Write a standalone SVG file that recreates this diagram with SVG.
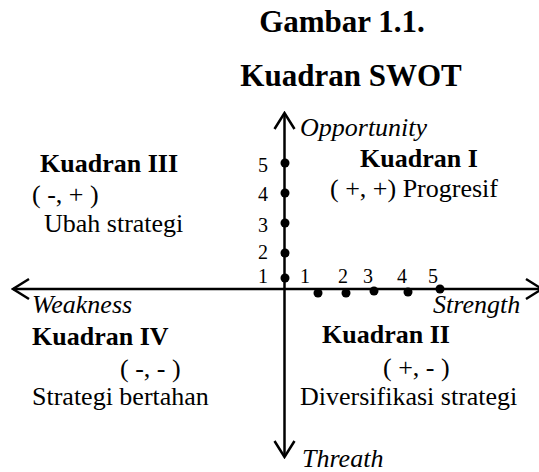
<svg xmlns="http://www.w3.org/2000/svg" width="539" height="472" viewBox="0 0 539 472">
<style>
text{font-family:"Liberation Serif","Times New Roman",serif;fill:#000}
.t{font-size:31px;font-weight:bold;text-anchor:middle}
.b{font-size:26px;font-weight:bold}
.r{font-size:26px}
.i{font-size:26px;font-style:italic}
.n{font-size:20px;text-anchor:middle}
.axis{stroke:#000;stroke-width:2.5;fill:none}
.dot{fill:#000}
</style>
<defs>
<marker id="chev" markerUnits="userSpaceOnUse" viewBox="0 0 20 24" refX="18" refY="12" markerWidth="20" markerHeight="24" orient="auto-start-reverse">
<path d="M2,2 L18,12 L2,22" fill="none" stroke="#000" stroke-width="2.5"/>
</marker>
</defs>
<rect width="539" height="472" fill="#fff"/>
<g id="title">
<text class="t" x="342" y="32">Gambar 1.1.</text>
<text class="t" x="351" y="86">Kuadran SWOT</text>
</g>
<g id="connectors">
<line class="axis" x1="284.5" y1="113" x2="284.5" y2="457" marker-start="url(#chev)" marker-end="url(#chev)"/>
<line class="axis" x1="13" y1="289" x2="542" y2="289" marker-start="url(#chev)" marker-end="url(#chev)"/>
</g>
<g id="y-scale">
<circle class="dot" cx="285" cy="163" r="4.5"/>
<circle class="dot" cx="285" cy="193" r="4.5"/>
<circle class="dot" cx="285" cy="223" r="4.5"/>
<circle class="dot" cx="285" cy="253" r="4.5"/>
<circle class="dot" cx="285" cy="278" r="4.5"/>
<text class="n" x="263" y="172">5</text>
<text class="n" x="263" y="201">4</text>
<text class="n" x="263" y="232">3</text>
<text class="n" x="263" y="259">2</text>
<text class="n" x="263" y="283">1</text>
</g>
<g id="x-scale">
<circle class="dot" cx="318" cy="293" r="4.5"/>
<circle class="dot" cx="346" cy="293" r="4.5"/>
<circle class="dot" cx="374" cy="291" r="4.5"/>
<circle class="dot" cx="408" cy="292" r="4.5"/>
<circle class="dot" cx="440" cy="289" r="4.5"/>
<text class="n" x="305" y="283">1</text>
<text class="n" x="343" y="283">2</text>
<text class="n" x="368" y="283">3</text>
<text class="n" x="402" y="283">4</text>
<text class="n" x="433" y="283">5</text>
</g>
<g id="opportunity"><text class="i" x="300" y="136">Opportunity</text></g>
<g id="weakness"><text class="i" x="32" y="313">Weakness</text></g>
<g id="strength"><text class="i" x="433" y="313">Strength</text></g>
<g id="threath"><text class="i" x="302" y="467">Threath</text></g>
<g id="kuadran-1">
<text class="b" x="360" y="167">Kuadran I</text>
<text class="r" x="330" y="197">( +, +) Progresif</text>
</g>
<g id="kuadran-3">
<text class="b" x="40" y="172">Kuadran III</text>
<text class="r" x="32" y="203">( -, + )</text>
<text class="r" x="44" y="232">Ubah strategi</text>
</g>
<g id="kuadran-4">
<text class="b" x="32" y="345">Kuadran IV</text>
<text class="r" x="120" y="377">( -, - )</text>
<text class="r" x="32" y="405">Strategi bertahan</text>
</g>
<g id="kuadran-2">
<text class="b" x="322" y="343">Kuadran II</text>
<text class="r" x="383" y="376">( +, - )</text>
<text class="r" x="300" y="405">Diversifikasi strategi</text>
</g>
</svg>
